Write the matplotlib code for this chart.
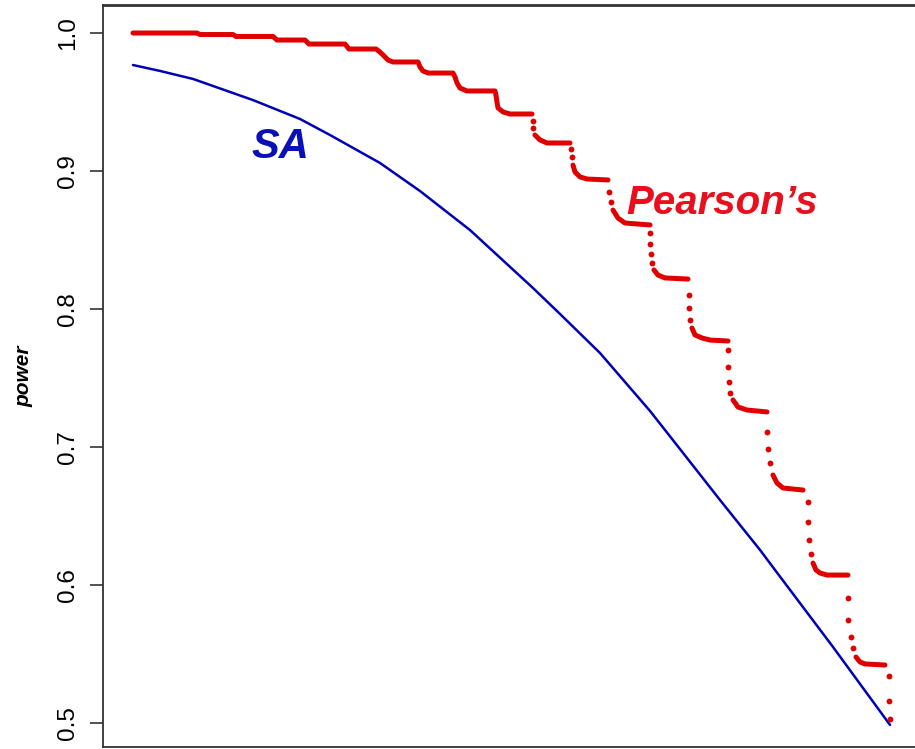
import numpy as np
import matplotlib
matplotlib.use("Agg")
import matplotlib.pyplot as plt

plt.rcParams['font.family'] = ['Liberation Sans', 'DejaVu Sans']

# ---- data ----
# SA power curve
sa_x = [0.0, 0.0357, 0.0793, 0.1585, 0.2206, 0.2602, 0.3263, 0.3791, 0.4452, 0.5284, 0.5641,
        0.6169, 0.6830, 0.7266, 0.7754, 0.8283, 0.8481, 0.9247, 1.0]
sa_y = [0.9768, 0.9725, 0.9667, 0.9514, 0.9377, 0.9261, 0.9058, 0.8855, 0.8572, 0.8152, 0.7964,
        0.7681, 0.7261, 0.6957, 0.6616, 0.6254, 0.6109, 0.5551, 0.4986]

# Pearson's power: dense plateau runs (NaN separates runs)
nan = float('nan')
pearson_run_x = [0.0, 0.0845, 0.0885, 0.1321, 0.1361, 0.1849, 0.1902, 0.2272, 0.2325, 0.2801,
                 0.2853, 0.3210, 0.3263, 0.3303, 0.3369, 0.3435, 0.3765, 0.3791, 0.3831, 0.3897,
                 0.4227, 0.4254, 0.4280, 0.4320, 0.4412, 0.4782, 0.4795, 0.4808, 0.4822, 0.4888,
                 0.4980, 0.5271, nan,
                 0.5310, 0.5376, 0.5469, 0.5773, nan,
                 0.5812, 0.5839, 0.5905, 0.5997, 0.6275, nan,
                 0.6341, 0.6407, 0.6499, 0.6830, nan,
                 0.6882, 0.6935, 0.7028, 0.7332, nan,
                 0.7384, 0.7424, 0.7517, 0.7622, 0.7860, nan,
                 0.7926, 0.7992, 0.8111, 0.8375, nan,
                 0.8454, 0.8507, 0.8587, 0.8851, nan,
                 0.8983, 0.9022, 0.9075, 0.9168, 0.9445, nan,
                 0.9551, 0.9604, 0.9670, 0.9934]
pearson_run_y = [1.0, 1.0, 0.9989, 0.9989, 0.9975, 0.9975, 0.9949, 0.9949, 0.9920, 0.9920,
                 0.9884, 0.9884, 0.9862, 0.9841, 0.9804, 0.9790, 0.9790, 0.9754, 0.9725, 0.9710,
                 0.9710, 0.9681, 0.9638, 0.9601, 0.9580, 0.9580, 0.9551, 0.9500, 0.9457, 0.9428,
                 0.9413, 0.9413, nan,
                 0.9261, 0.9225, 0.9203, 0.9203, nan,
                 0.9043, 0.8993, 0.8957, 0.8942, 0.8935, nan,
                 0.8717, 0.8659, 0.8623, 0.8609, nan,
                 0.8283, 0.8246, 0.8225, 0.8217, nan,
                 0.7862, 0.7812, 0.7790, 0.7775, 0.7768, nan,
                 0.7341, 0.7290, 0.7268, 0.7254, nan,
                 0.6797, 0.6739, 0.6703, 0.6688, nan,
                 0.6159, 0.6109, 0.6087, 0.6072, 0.6072, nan,
                 0.5478, 0.5442, 0.5428, 0.5420]
# Pearson's power: isolated points on the drops
pearson_dot_x = [0.5284, 0.5284, 0.5786, 0.5799, 0.6288, 0.6314, 0.6830, 0.6830, 0.6843, 0.6856,
                 0.7345, 0.7345, 0.7358, 0.7860, 0.7860, 0.7873, 0.7886, 0.8375, 0.8388, 0.8415,
                 0.8917, 0.8917, 0.8930, 0.8956, 0.9445, 0.9445, 0.9485, 0.9511, 0.9987, 0.9987, 1.0]
pearson_dot_y = [0.9362, 0.9312, 0.9159, 0.9101, 0.8848, 0.8775, 0.8551, 0.8471, 0.8399, 0.8333,
                 0.8101, 0.8007, 0.7920, 0.7703, 0.7580, 0.7471, 0.7391, 0.7109, 0.6986, 0.6884,
                 0.6601, 0.6457, 0.6326, 0.6225, 0.5906, 0.5746, 0.5623, 0.5543, 0.5341, 0.5159, 0.5029]

y_ticks = [0.5, 0.6, 0.7, 0.8, 0.9, 1.0]
y_ticklabels = ['0.5', '0.6', '0.7', '0.8', '0.9', '1.0']

# ---- figure ----
fig = plt.figure(figsize=(9.15, 7.49), dpi=100)
ax = fig.add_axes([103/915, 2/749, (935-103)/915, (747-5)/749])

red = '#e00000'
blue = '#0000b4'

ax.plot(sa_x, sa_y, color=blue, lw=1.8, solid_capstyle='round', solid_joinstyle='round')
ax.plot(pearson_run_x, pearson_run_y, color=red, lw=3.6, solid_capstyle='round', solid_joinstyle='round')
ax.plot(pearson_dot_x, pearson_dot_y, ls='none', marker='o', ms=4.2, color=red, mec='none')

ax.set_xlim(-30/757, (935-133)/757)
ax.set_ylim(1 - 714/1380, 1 + 28/1380)

ax.set_yticks(y_ticks)
ax.set_yticklabels(y_ticklabels, rotation=90, va='center', fontsize=17.5)
ax.tick_params(axis='y', length=9.5, width=1.2, pad=8, color='#333333')
ax.set_xticks([])
for s in ['left', 'bottom', 'top']:
    ax.spines[s].set_color('#333333')
    ax.spines[s].set_linewidth(1.3)
ax.spines['top'].set_linewidth(2.0)
ax.spines['right'].set_visible(False)

ax.set_ylabel('power', fontsize=15, style='italic', fontweight='bold', labelpad=17)

ax.text(0.195, 0.9175, 'SA', color='#0a10b8', fontsize=30, fontweight='bold',
        style='italic', ha='center', va='center')
ax.text(0.778, 0.8765, 'Pearson\u2019s', color='#e8101e', fontsize=29, fontweight='bold',
        style='italic', ha='center', va='center')

fig.savefig('out.png', dpi=100)
